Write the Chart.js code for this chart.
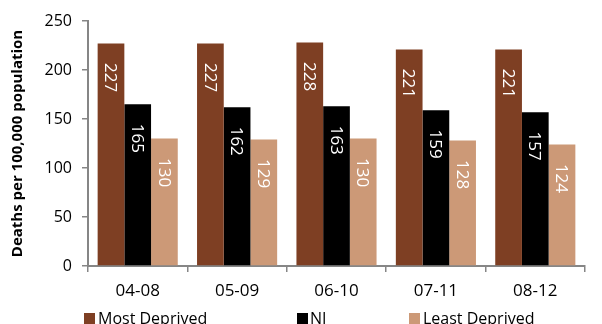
<!DOCTYPE html>
<html>
<head>
<meta charset="utf-8">
<script src="https://cdn.jsdelivr.net/npm/chart.js@4"></script>
<style>
  html, body { margin: 0; padding: 0; background: #fff; }
  #wrap { position: relative; width: 602px; height: 324px; overflow: hidden; }
  #chart { position: absolute; left: 0; top: 0; }
  .leg { position: absolute; font-family: "Open Sans", sans-serif; font-size: 16px; line-height: 16px; color: #000; white-space: nowrap; }
  .sw { position: absolute; width: 11px; height: 11px; }
</style>
</head>
<body>
<div id="wrap">
  <canvas id="chart" width="602" height="324"></canvas>
</div>
<script>
// Death rates per 100,000 population, five-year periods
const periods = ["04-08", "05-09", "06-10", "07-11", "08-12"];
const mostDeprived = [227, 227, 228, 221, 221];
const ni = [165, 162, 163, 159, 157];
const leastDeprived = [130, 129, 130, 128, 124];
const seriesNames = ["Most Deprived", "NI", "Least Deprived"];
const seriesColors = ["#7E3F23", "#000000", "#CC9977"];
const yTicks = [0, 50, 100, 150, 200, 250];

const FONT = "Open Sans";
const AXIS = "#868686";

// Vertical value labels inside the top of each bar
const barLabels = {
  id: "barLabels",
  afterDatasetsDraw(chart) {
    const ctx = chart.ctx;
    ctx.save();
    ctx.fillStyle = "#ffffff";
    ctx.font = "17px '" + FONT + "'";
    ctx.textAlign = "center";
    ctx.textBaseline = "middle";
    chart.data.datasets.forEach((ds, di) => {
      chart.getDatasetMeta(di).data.forEach((bar, i) => {
        ctx.save();
        ctx.translate(bar.x, bar.y + 34);
        ctx.rotate(Math.PI / 2);
        ctx.fillText(String(ds.data[i]), 0, 1);
        ctx.restore();
      });
    });
    ctx.restore();
  }
};

const data = [mostDeprived, ni, leastDeprived];

new Chart(document.getElementById("chart"), {
  type: "bar",
  data: {
    labels: periods,
    datasets: data.map((vals, k) => ({
      label: seriesNames[k],
      data: vals,
      backgroundColor: seriesColors[k],
      borderWidth: 0,
      categoryPercentage: 0.806,
      barPercentage: 1.0
    }))
  },
  options: {
    responsive: false,
    animation: false,
    layout: { padding: { left: 0, right: 17, top: 21, bottom: 0 } },
    plugins: {
      legend: { display: false },
      tooltip: { enabled: false }
    },
    scales: {
      x: {
        afterFit(s) { s.height = 58; },
        border: { color: AXIS, width: 2 },
        grid: { offset: true, drawOnChartArea: false, drawTicks: true, tickLength: 6, color: AXIS, lineWidth: 1.5 },
        ticks: { color: "#000", padding: 9, font: { family: FONT, size: 17 } }
      },
      y: {
        min: 0,
        max: 250,
        afterFit(s) { s.width = 88; },
        afterBuildTicks(s) { s.ticks = yTicks.map(v => ({ value: v })); },
        border: { color: AXIS, width: 2 },
        grid: { drawOnChartArea: false, drawTicks: true, tickLength: 6, color: AXIS, lineWidth: 1.5 },
        ticks: { color: "#000", padding: 10, font: { family: FONT, size: 16 } },
        title: {
          display: true,
          text: "Deaths per 100,000 population",
          color: "#000",
          font: { family: FONT, size: 15, weight: "bold" },
          padding: { top: 9, bottom: 0 }
        }
      }
    }
  },
  plugins: [barLabels]
});

// Legend row along the bottom edge
const legendPos = [
  { sw: 84, tx: 98 },
  { sw: 297, tx: 310 },
  { sw: 409, tx: 423 }
];
const wrap = document.getElementById("wrap");
seriesNames.forEach((name, k) => {
  const sw = document.createElement("div");
  sw.className = "sw";
  sw.style.left = legendPos[k].sw + "px";
  sw.style.top = "313px";
  sw.style.background = seriesColors[k];
  wrap.appendChild(sw);
  const t = document.createElement("div");
  t.className = "leg";
  t.style.left = legendPos[k].tx + "px";
  t.style.top = "310px";
  t.textContent = name;
  wrap.appendChild(t);
});
</script>
</body>
</html>
